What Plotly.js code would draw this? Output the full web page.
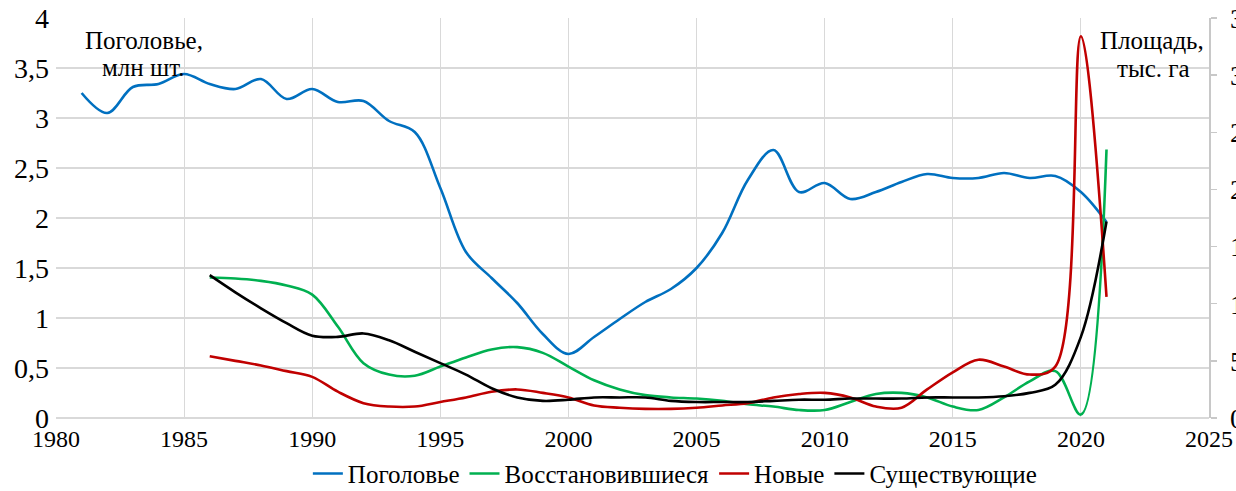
<!DOCTYPE html>
<html>
<head>
<meta charset="utf-8">
<script src="https://cdn.plot.ly/plotly-3.0.1.min.js"></script>
<style>
  html, body { margin: 0; padding: 0; background: #fff; }
  #chart { width: 1236px; height: 491px; }
</style>
</head>
<body>
<div id="chart"></div>
<script>
// Years
const yearsHead = [1981,1982,1983,1984,1985,1986,1987,1988,1989,1990,1991,1992,1993,1994,1995,1996,1997,1998,1999,2000,2001,2002,2003,2004,2005,2006,2007,2008,2009,2010,2011,2012,2013,2014,2015,2016,2017,2018,2019,2020,2021];
const yearsArea = [1986,1987,1988,1989,1990,1991,1992,1993,1994,1995,1996,1997,1998,1999,2000,2001,2002,2003,2004,2005,2006,2007,2008,2009,2010,2011,2012,2013,2014,2015,2016,2017,2018,2019,2020,2021];

// Поголовье, млн шт. (left axis)
const livestock = [3.25,3.05,3.31,3.34,3.44,3.34,3.29,3.39,3.19,3.29,3.16,3.17,2.97,2.86,2.30,1.66,1.40,1.15,0.84,0.64,0.81,0.99,1.16,1.29,1.50,1.85,2.38,2.68,2.26,2.35,2.19,2.26,2.36,2.44,2.40,2.40,2.45,2.40,2.42,2.26,1.96];

// Площадь, тыс. га (right axis)
const recovered = [12.3,12.2,12.0,11.6,10.8,8.0,4.8,3.8,3.7,4.5,5.3,6.0,6.2,5.7,4.5,3.3,2.5,2.0,1.8,1.7,1.5,1.2,1.0,0.7,0.7,1.4,2.1,2.2,1.8,1.0,0.7,1.8,3.2,4.1,0.3,23.5];
const newAreas  = [5.4,5.0,4.6,4.1,3.6,2.3,1.3,1.0,1.0,1.4,1.8,2.3,2.5,2.2,1.8,1.1,0.9,0.8,0.8,0.9,1.1,1.3,1.8,2.1,2.2,1.8,1.0,0.9,2.5,4.0,5.1,4.5,3.8,4.5,33.4,10.6];
const existing  = [12.5,11.0,9.6,8.3,7.2,7.1,7.4,6.8,5.8,4.8,3.8,2.6,1.8,1.5,1.6,1.8,1.8,1.8,1.5,1.4,1.4,1.4,1.5,1.6,1.6,1.7,1.7,1.7,1.8,1.8,1.8,1.9,2.2,2.9,7.1,17.2];

const seriesNames = ['Поголовье','Восстановившиеся','Новые','Существующие'];
const FONT = 'Liberation Serif, Times New Roman, serif';

const lineStyle = (c) => ({color: c, width: 2.6, shape: 'spline', smoothing: 1});

const traces = [
  {x: yearsHead, y: livestock, name: seriesNames[0], type: 'scatter', mode: 'lines', line: lineStyle('#0070C0'), yaxis: 'y'},
  {x: yearsArea, y: recovered, name: seriesNames[1], type: 'scatter', mode: 'lines', line: lineStyle('#00B050'), yaxis: 'y2'},
  {x: yearsArea, y: newAreas,  name: seriesNames[2], type: 'scatter', mode: 'lines', line: lineStyle('#C00000'), yaxis: 'y2'},
  {x: yearsArea, y: existing,  name: seriesNames[3], type: 'scatter', mode: 'lines', line: lineStyle('#000000'), yaxis: 'y2'}
];

const layout = {
  width: 1236, height: 491,
  margin: {l: 56, r: 26.5, t: 17.5, b: 73, pad: 0},
  paper_bgcolor: '#ffffff', plot_bgcolor: '#ffffff',
  separators: ', ',
  font: {family: FONT, color: '#000', size: 23},
  showlegend: true,
  legend: {
    orientation: 'h', xref: 'container', yref: 'container',
    x: 0.546, xanchor: 'center', y: 0.035, yanchor: 'middle',
    font: {family: FONT, size: 25, color: '#000'},
    itemwidth: 30, tracegroupgap: 0, bgcolor: 'rgba(0,0,0,0)'
  },
  xaxis: {
    range: [1980, 2025], dtick: 5, tick0: 1980,
    showgrid: true, gridcolor: '#d9d9d9', gridwidth: 1.2,
    zeroline: false, showline: false, ticks: '',
    tickfont: {family: FONT, size: 24, color: '#000'},
    ticklabelstandoff: 4
  },
  yaxis: {
    range: [0, 4], dtick: 0.5, tick0: 0,
    showgrid: true, gridcolor: '#d9d9d9', gridwidth: 1.2,
    zeroline: true, zerolinecolor: '#d9d9d9', zerolinewidth: 1.2,
    showline: false, ticks: '',
    tickfont: {family: FONT, size: 28, color: '#000'},
    ticklabelstandoff: 6
  },
  yaxis2: {
    range: [0, 35], dtick: 5, tick0: 0,
    overlaying: 'y', side: 'right',
    showgrid: false, zeroline: false,
    showline: true, linecolor: '#c8c8c8', linewidth: 1.5,
    ticks: 'outside', ticklen: 6, tickcolor: '#c8c8c8', tickwidth: 1.5,
    tickfont: {family: FONT, size: 28, color: '#000'},
    ticklabelstandoff: 8
  },
  annotations: [
    {text: 'Поголовье,', xref: 'x', yref: 'y', x: 1983.44, y: 3.78, showarrow: false, xanchor: 'center', yanchor: 'middle', font: {family: FONT, size: 25, color: '#000'}},
    {text: 'млн шт.', xref: 'x', yref: 'y', x: 1983.4, y: 3.51, showarrow: false, xanchor: 'center', yanchor: 'middle', font: {family: FONT, size: 25, color: '#000'}},
    {text: 'Площадь,', xref: 'x', yref: 'y', x: 2022.76, y: 3.78, showarrow: false, xanchor: 'center', yanchor: 'middle', font: {family: FONT, size: 25, color: '#000'}},
    {text: 'тыс. га', xref: 'x', yref: 'y', x: 2022.83, y: 3.50, showarrow: false, xanchor: 'center', yanchor: 'middle', font: {family: FONT, size: 25, color: '#000'}}
  ]
};

Plotly.newPlot('chart', traces, layout, {displayModeBar: false, staticPlot: true});
</script>
</body>
</html>
